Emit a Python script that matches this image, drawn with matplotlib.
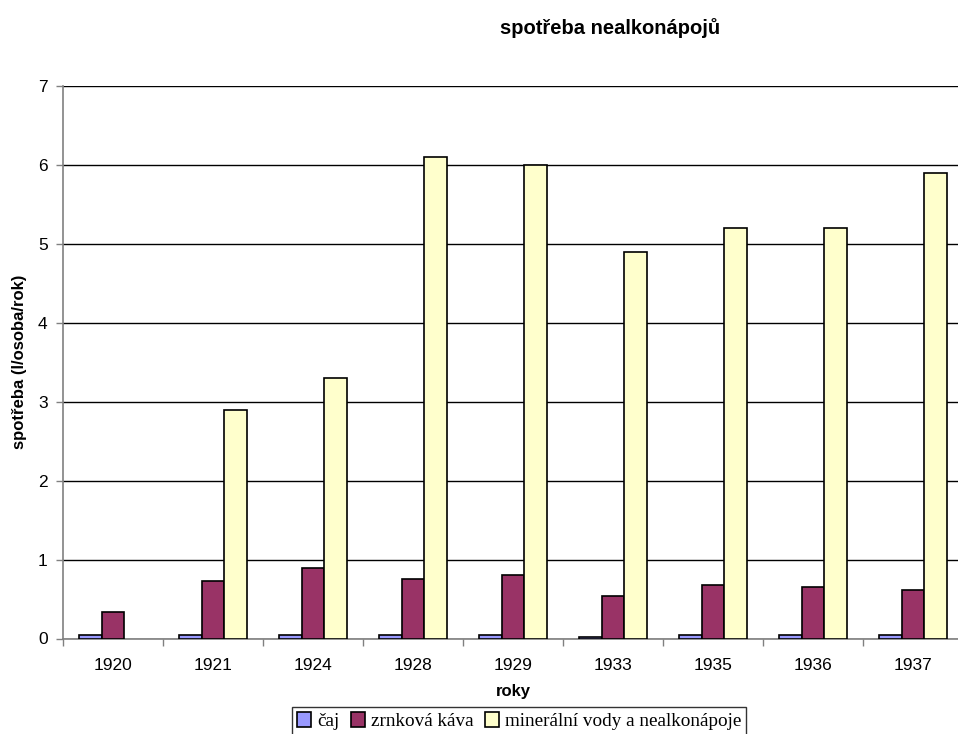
import numpy as np
import matplotlib
matplotlib.use("Agg")
import matplotlib.pyplot as plt
from matplotlib.patches import Patch

# spotřeba nealkoholických nápojů, l/osoba/rok
roky = ["1920", "1921", "1924", "1928", "1929", "1933", "1935", "1936", "1937"]
caj = [0.04, 0.04, 0.05, 0.05, 0.05, 0.02, 0.04, 0.04, 0.04]
kava = [0.33, 0.73, 0.89, 0.76, 0.80, 0.54, 0.68, 0.65, 0.62]
mineralky = [0.0, 2.9, 3.3, 6.1, 6.0, 4.9, 5.2, 5.2, 5.9]
serie = ["čaj", "zrnková káva", "minerální vody a nealkonápoje"]
barvy = ["#9999FF", "#993366", "#FFFFCC"]

plt.rcParams["font.family"] = ["Liberation Sans", "DejaVu Sans"]

fig = plt.figure(figsize=(9.58, 7.34), dpi=100)
ax = fig.add_axes([63 / 958, 1 - 638.5 / 734, 900 / 958, (638.5 - 86) / 734])

x = np.arange(len(roky))
w = 0.225
for i, (vals, c, lab) in enumerate(zip([caj, kava, mineralky], barvy, serie)):
    hodnoty = np.array(vals)
    b = ax.bar(x + (i - 1) * w, hodnoty, w, color=c, edgecolor="black",
               linewidth=1.2, label=lab, zorder=3)
    # chybějící hodnota (1920) se nekreslí
    for p, v in zip(b.patches, hodnoty):
        if v == 0:
            p.set_visible(False)

ax.set_xlim(-0.5, len(roky) - 0.5)
ax.set_ylim(0, 7)
ax.set_yticks(range(8))
ax.yaxis.grid(True, color="black", linewidth=1.0, zorder=0)
ax.set_axisbelow(True)

ax.set_xticks(x)
ax.set_xticklabels(roky)
ax.set_xticks(np.arange(-0.5, len(roky)), minor=True)
ax.tick_params(axis="x", which="major", length=0, pad=14, labelsize=12.5)
ax.tick_params(axis="x", which="minor", length=5, color="#808080", width=1)
ax.tick_params(axis="y", length=5, color="#808080", width=1, labelsize=12.5, pad=6)

for s in ["top", "right"]:
    ax.spines[s].set_visible(False)
for s in ["left", "bottom"]:
    ax.spines[s].set_color("#808080")
    ax.spines[s].set_linewidth(1.2)

ax.set_xlabel("roky", fontsize=12, fontweight="bold", labelpad=8)
ax.set_ylabel("spotřeba (l/osoba/rok)", fontsize=12, fontweight="bold", labelpad=8)
fig.text(610 / 958, 1 - 28 / 734, "spotřeba nealkonápojů", fontsize=14.5,
         fontweight="bold", ha="center", va="center")

handles = [Patch(facecolor=c, edgecolor="black", linewidth=1.2) for c in barvy]
leg = fig.legend(handles=handles, labels=serie, loc="upper center",
                 bbox_to_anchor=(519 / 958, 1 - 707 / 734), ncol=3,
                 prop={"family": "Liberation Serif", "size": 13.8},
                 frameon=True, fancybox=False, edgecolor="black",
                 handlelength=0.75, handleheight=0.85, handletextpad=0.3,
                 columnspacing=0.6, borderpad=0.25, borderaxespad=0)
leg.get_frame().set_linewidth(1.0)

fig.savefig("out.png", dpi=100)
